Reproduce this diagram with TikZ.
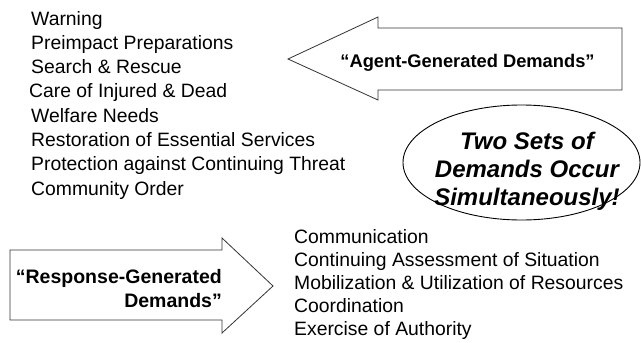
\documentclass[tikz,border=0pt]{standalone}
\usepackage{fontspec}
\setmainfont{Liberation Sans}
\usetikzlibrary{positioning}

\begin{document}
\begin{tikzpicture}[x=1pt, y=-1pt,
    listtext/.style={inner sep=0pt, anchor=base west, font=\fontsize{19.35}{23}\selectfont},
    blockarrow/.style={draw=black!80, line width=0.8pt, line join=miter},
    arrowtext/.style={inner sep=0pt, font=\bfseries\fontsize{19.5}{24}\selectfont}]

    \useasboundingbox (0, 0) rectangle (641, 343);

    % Agent-generated demands
    \foreach \txt/\dx [count=\i] in {Warning/0, Preimpact Preparations/0, Search \& Rescue/0,
        Care of Injured \& Dead/-2, Welfare Needs/0, Restoration of Essential Services/0,
        Protection against Continuing Threat/0, Community Order/0}
        \node[listtext] (agent\i) at ({31+\dx}, {25+24.3*(\i-1)}) {\txt};

    % Response-generated demands
    \foreach \txt [count=\i] in {Communication, Continuing Assessment of Situation,
        Mobilization \& Utilization of Resources, Coordination, Exercise of Authority}
        \node[listtext] (resp\i) at (294, {243+23*(\i-1)}) {\txt};

    % Draw arrows
    \draw[blockarrow] (288, 59) -- (378, 17) -- (378, 28) -- (622, 28)
        -- (622, 90) -- (378, 90) -- (378, 100) -- cycle;
    \draw[blockarrow] (273, 286) -- (222, 238) -- (222, 250) -- (10, 250)
        -- (10, 320) -- (222, 320) -- (222, 333) -- cycle;

    \node[arrowtext, anchor=base, font=\bfseries\fontsize{18.3}{24}\selectfont] (agentdem) at (467.5, 67) {``Agent-Generated Demands''};
    \node[arrowtext, anchor=east, align=right] (respdem) at (222, 289) {``Response-Generated\\Demands''};

    % Draw ellipse
    \draw[line width=0.9pt] (521.5, 162.5) ellipse [x radius=118.5, y radius=57.5];
    \node[inner sep=0pt, align=center, font=\bfseries\itshape\fontsize{24}{28}\selectfont] (simul) at (527, 171) {Two Sets of\\Demands Occur\\Simultaneously!};

\end{tikzpicture}
\end{document}
